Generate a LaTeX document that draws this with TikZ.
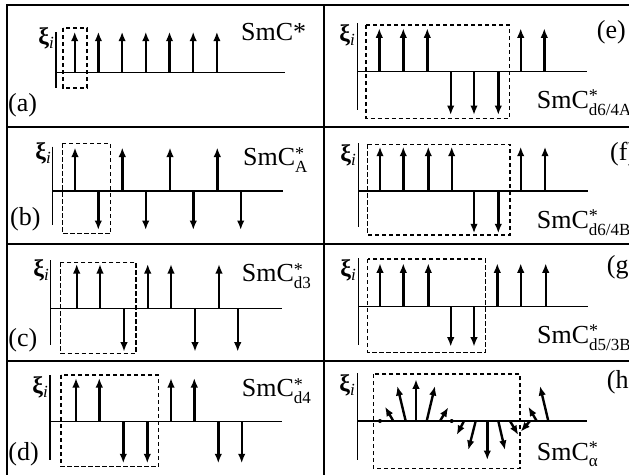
\documentclass[tikz,border=0pt]{standalone}
\usepackage{fontspec}
\setmainfont{Liberation Serif}
\usetikzlibrary{arrows.meta}
\tikzset{
  frame/.style={line width=1.4pt},
  axisln/.style={line width=1.4pt},
  spin/.style={line width=2.4pt, -{Latex[length=9.5pt,width=7.5pt]}},
  dbox/.style={line width=1.1pt, dash pattern=on 4.2pt off 2.8pt},
  lbl/.style={font=\fontsize{26}{30}\selectfont, inner sep=0pt, anchor=base west},
  xil/.style={font=\fontsize{24}{28}\selectfont, inner sep=0pt, anchor=base east},
}
\newcommand\smcs[1]{SmC\rlap{\raisebox{0.25em}{\fontsize{18}{18}\selectfont *}}\raisebox{-0.26em}{\fontsize{17}{17}\selectfont #1}}
\newcommand\xilabel{\textbf{ξ}\raisebox{-0.2em}{\fontsize{17}{17}\selectfont\itshape i}}
\newcommand\spins[3]{\foreach \xx in {#1} {\draw[spin] (\xx,#2) -- (\xx,#3);}}
\begin{document}
\begin{tikzpicture}[x=1pt,y=-1pt]
\useasboundingbox (0,0) rectangle (629,474);
\begin{scope}
\clip (0,0) rectangle (629,474);
% frame grid
\draw[frame] (7,480) -- (7,5) -- (650,5);
\draw[frame] (324,5) -- (324,480);
\foreach \yy in {127,244,361} \draw[frame] (7,\yy) -- (650,\yy);

% ---------- (a)
\draw[axisln] (56,32) -- (56,88);
\draw[axisln] (56,72.7) -- (285,72.7);
\spins{74.7,98.4,122.1,145.8,169.5,193.2,216.9}{72.7}{31.7}
\draw[dbox] (63,28) rectangle (87,88);
\node[xil] (xa) at (54,44) {\xilabel};
\node[lbl] (sa) at (241,40.7) {SmC*};
\node[lbl] (pa) at (8,111.7) {(a)};

% ---------- (b)
\draw[axisln] (52.7,146.7) -- (52.7,225);
\draw[axisln] (52.7,191) -- (283,191);
\spins{75,122.3,170,217.3}{191}{147.5}
\spins{98.3,145.7,193.3,240.7}{191}{230}
\draw[dbox] (62.3,143.3) rectangle (110.7,233.3);
\node[xil] (xb) at (51,159) {\xilabel};
\node[lbl] (sb) at (243,165.7) {\smcs{A}};
\node[lbl] (pb) at (10,225) {(b)};

% ---------- (c)
\draw[axisln] (50.7,260) -- (50.7,345);
\draw[axisln] (50.7,308.3) -- (282,308.3);
\spins{76.7,100,147.7,171,219}{308.3}{264}
\spins{124,195,237.7}{308.3}{351.7}
\draw[dbox] (60.7,262.3) rectangle (136,353.3);
\node[xil] (xc) at (49,276) {\xilabel};
\node[lbl] (sc) at (241.7,281.7) {\smcs{d3}};
\node[lbl] (pc) at (8.3,346.7) {(c)};

% ---------- (d)
\draw[axisln] (50,375) -- (50,460);
\draw[axisln] (50,421.7) -- (282,421.7);
\spins{76,99.3,171,194.3}{421.7}{378}
\spins{123.3,147.3,218.3,241.7}{421.7}{463.3}
\draw[dbox] (61,375) rectangle (158.3,466.7);
\node[xil] (xd) at (48,393) {\xilabel};
\node[lbl] (sd) at (241.7,396.7) {\smcs{d4}};
\node[lbl] (pd) at (8.3,460) {(d)};

% ---------- (e)
\draw[axisln] (357.3,23.3) -- (357.3,110);
\draw[axisln] (357.3,71.7) -- (587,71.7);
\spins{379.3,403.3,427.3,520.7,544.3}{71.7}{28.3}
\spins{450.7,474,498.3}{71.7}{115}
\draw[dbox] (366,25) rectangle (509.3,118.3);
\node[xil] (xe) at (355,41) {\xilabel};
\node[lbl] (se) at (536.7,108.3) {\smcs{d6/4A}};
\node[lbl] (pe) at (596.7,38.3) {(e)};

% ---------- (f)
\draw[axisln] (358.3,143) -- (358.3,226.7);
\draw[axisln] (358.3,191) -- (588,191);
\spins{380,403.3,428.3,451.7,520.7,545}{191}{146.7}
\spins{474,498.3}{191}{233.3}
\draw[dbox] (367.7,144.3) rectangle (510,235);
\node[xil] (xf) at (356,161) {\xilabel};
\node[lbl] (sf) at (536.7,228.3) {\smcs{d6/4B}};
\node[lbl] (pf) at (610,160) {(f)};

% ---------- (g)
\draw[axisln] (358.3,258) -- (358.3,345);
\draw[axisln] (358.3,306.7) -- (588,306.7);
\spins{380,403.3,428.3,497.3,520.7,545.7}{306.7}{263.3}
\spins{450.7,474}{306.7}{346.7}
\draw[dbox] (367.7,259) rectangle (485.7,352.3);
\node[xil] (xg) at (356,276) {\xilabel};
\node[lbl] (sg) at (537,343.3) {\smcs{d5/3B}};
\node[lbl] (pg) at (606.7,273) {(g)};

% ---------- (h)
\draw[axisln] (357.3,373) -- (357.3,460);
\draw[axisln] (357.3,421) -- (587.3,421);
\draw[dbox] (373.3,374) rectangle (520,468.3);
\fill (380,421) circle (2);
\fill (451.7,421) circle (2);
\foreach \bx/\tx/\ty in {393.3/385/406.7, 405.7/397.3/386, 416/416/379.3,
  426.7/435/386, 440/448.3/407.3, 464/456.7/435, 475.7/468.3/450,
  487.3/487.3/460, 498.3/505/450, 510/518.3/435, 530/520.7/431.7,
  536.7/528.3/406.7, 548.3/540/386}
  {\draw[spin] (\bx,421) -- (\tx,\ty);}
\node[xil] (xh) at (355,391) {\xilabel};
\node[lbl] (sh) at (536.7,460) {\smcs{α}};
\node[lbl] (ph) at (606.7,388.3) {(h)};
\end{scope}
\end{tikzpicture}
\end{document}
